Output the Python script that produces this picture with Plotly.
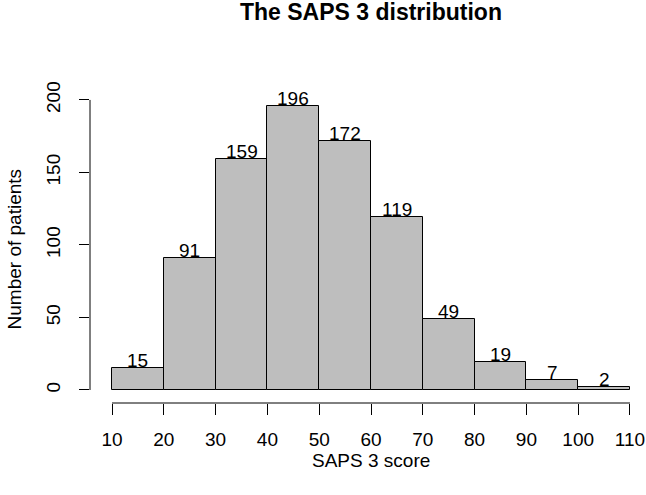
import plotly.graph_objects as go

# Data
breaks = [10, 20, 30, 40, 50, 60, 70, 80, 90, 100, 110]
counts = [15, 91, 159, 196, 172, 119, 49, 19, 7, 2]
x_ticks = [10, 20, 30, 40, 50, 60, 70, 80, 90, 100, 110]
y_ticks = [0, 50, 100, 150, 200]

mids = [(breaks[i] + breaks[i + 1]) / 2 for i in range(len(counts))]
widths = [breaks[i + 1] - breaks[i] for i in range(len(counts))]

FONT = "Liberation Sans, Arial, sans-serif"

fig = go.Figure()
fig.add_trace(go.Bar(
    x=mids, y=counts, width=widths,
    marker=dict(color="#BEBEBE", line=dict(color="black", width=1)),
    hoverinfo="x+y", showlegend=False,
))

# R-style detached axis lines spanning first to last tick
fig.add_shape(type="line", xref="x", yref="paper", x0=x_ticks[0], x1=x_ticks[-1], y0=0, y1=0,
              line=dict(color="black", width=1))
fig.add_shape(type="line", xref="paper", yref="y", x0=0, x1=0, y0=y_ticks[0], y1=y_ticks[-1],
              line=dict(color="black", width=1))

annotations = [
    dict(text=str(c), x=m, y=c, xref="x", yref="y", xanchor="center", yanchor="bottom",
         yshift=-5, showarrow=False, font=dict(family=FONT, size=19, color="black"))
    for m, c in zip(mids, counts)
]
annotations += [
    dict(text="<b>The SAPS 3 distribution</b>", xref="paper", yref="paper",
         x=0.505, y=1.2654, xanchor="center", yanchor="middle", showarrow=False,
         font=dict(family=FONT, size=23, color="black")),
    dict(text="SAPS 3 score", xref="paper", yref="paper",
         x=0.505, y=-0.1845, xanchor="center", yanchor="middle", showarrow=False,
         font=dict(family=FONT, size=19, color="black")),
    dict(text="Number of patients", xref="paper", yref="paper",
         x=-0.135, y=0.5, xanchor="center", yanchor="middle", showarrow=False,
         textangle=-90, font=dict(family=FONT, size=19, color="black")),
]

fig.update_layout(
    width=646, height=495, autosize=False,
    margin=dict(l=90, r=0, t=94, b=92),
    paper_bgcolor="white", plot_bgcolor="white",
    bargap=0,
    font=dict(family=FONT, size=19, color="black"),
    xaxis=dict(range=[5.75, 113.09], tickmode="array", tickvals=x_ticks,
               ticktext=[str(v) for v in x_ticks], automargin=False,
               ticks="outside", ticklen=11, tickwidth=1, tickcolor="black",
               showgrid=False, zeroline=False, showline=False,
               ticklabelstandoff=8, tickfont=dict(size=19)),
    yaxis=dict(range=[-8.97, 204.1], tickmode="array", tickvals=y_ticks,
               ticktext=[str(v) for v in y_ticks], automargin=False,
               ticks="outside", ticklen=10, tickwidth=1, tickcolor="black",
               showgrid=False, zeroline=False, showline=False, tickangle=-90,
               ticklabelstandoff=11, tickfont=dict(size=19)),
    annotations=annotations,
)

fig.write_html(
    "out.html",
    config={"displayModeBar": False},
    post_script="document.body.style.margin='0';document.body.style.overflow='hidden';",
)
